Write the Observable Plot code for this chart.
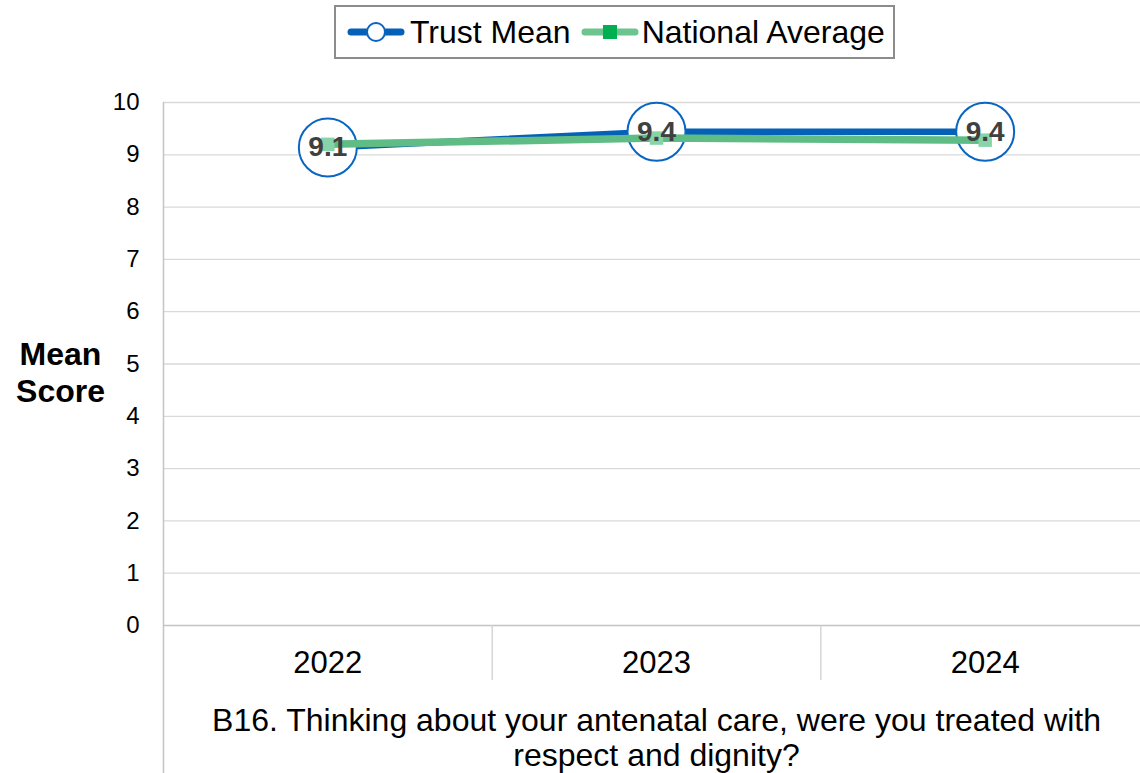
<!DOCTYPE html>
<html><head><meta charset="utf-8">
<script src="https://cdn.jsdelivr.net/npm/d3@7"></script>
<script src="https://cdn.jsdelivr.net/npm/@observablehq/plot@0.6"></script>
<style>
body{margin:0;background:#fff;font-family:"Liberation Sans",Arial,sans-serif;}
#wrap{position:relative;width:1140px;height:773px;overflow:hidden;}
#chart{position:absolute;left:0;top:0;}
#legend{position:absolute;left:334px;top:5px;width:546px;height:50px;border:2px solid #8c8c8c;background:#fff;display:flex;align-items:center;justify-content:flex-start;font-size:32px;color:#000;white-space:nowrap;padding-left:11px;box-sizing:content-box;}
#legend .item{display:flex;align-items:center;}
#legend .item + .item{margin-left:10px;}
</style></head><body><div id="wrap"><div id="chart"></div><div id="legend"></div></div>
<script>
const years = [2022, 2023, 2024];
const trustMean = [9.14, 9.44, 9.44];
const nationalAverage = [9.2, 9.32, 9.28];
const trustLabels = ["9.1", "9.4", "9.4"];
const seriesNames = ["Trust Mean", "National Average"];
const yTicks = [0, 1, 2, 3, 4, 5, 6, 7, 8, 9, 10];
const questionText = "B16. Thinking about your antenatal care, were you treated with\nrespect and dignity?";
const yTitle = "Mean\nScore";

const BLUE = "#0560B8", CIRCLE = "#0866C2", GREEN = "#5EBC84", GREEN_MK = "#86D4A8", GREEN_LEG = "#00B050";

const trust = years.map((x, i) => ({x, y: trustMean[i], label: trustLabels[i]}));
const nat = years.map((x, i) => ({x, y: nationalAverage[i]}));
const seps = years.slice(0, -1).map(d => d + 0.5);
const leftEdge = [years[0] - 0.5];

const plot = Plot.plot({
  width: 1140, height: 773,
  marginTop: 102, marginBottom: 148, marginLeft: 163, marginRight: 0,
  style: {fontFamily: "'Liberation Sans', Arial, sans-serif", background: "transparent", overflow: "visible"},
  x: {type: "linear", domain: [years[0] - 0.5, years[2] + 0.5], range: [163, 1149], label: null},
  y: {domain: [0, 10], label: null},
  marks: [
    Plot.ruleY(yTicks.filter(d => d > 0), {stroke: "#d9d9d9", strokeWidth: 1.3}),
    Plot.ruleY([0], {stroke: "#c4c4c4", strokeWidth: 1.5}),
    Plot.ruleX(seps, {y1: 0, y2: -1.05, stroke: "#d0d0d0", strokeWidth: 1.3}),
    Plot.ruleX(leftEdge, {y1: 10, y2: -2.9, stroke: "#c4c4c4", strokeWidth: 1.5}),
    Plot.axisY(yTicks, {tickSize: 0, tickPadding: 24, fontSize: 24, fill: "#000", tickFormat: d => String(d)}),
    Plot.axisX(years, {tickSize: 0, tickPadding: 25, fontSize: 31, fill: "#000", tickFormat: d => String(d)}),
    Plot.text([{t: questionText, x: years[1]}], {x: "x", text: "t", frameAnchor: "bottom", dy: 112, fontSize: 32, lineHeight: 1.1, lineAnchor: "middle", fill: "#000"}),
    Plot.text([yTitle], {frameAnchor: "left", dx: -103, dy: 8, fontWeight: "bold", fontSize: 32, textAnchor: "middle", lineHeight: 1.15, fill: "#000"}),
    Plot.line(trust, {x: "x", y: "y", stroke: BLUE, strokeWidth: 6.5}),
    Plot.dot(trust, {x: "x", y: "y", r: 29, fill: "white", stroke: CIRCLE, strokeWidth: 2}),
    Plot.line(nat, {x: "x", y: "y", stroke: GREEN, strokeWidth: 7.5}),
    Plot.dot(nat, {x: "x", y: "y", symbol: "square", r: 7.6, fill: GREEN_MK}),
    Plot.text(trust, {x: "x", y: "y", text: "label", fontWeight: "bold", fontSize: 28, fill: "#404040"})
  ]
});
document.getElementById("chart").appendChild(plot);

// legend
const legend = d3.select("#legend");
const items = [
  {name: seriesNames[0], line: BLUE, kind: "circle"},
  {name: seriesNames[1], line: "#6CC48F", kind: "square"}
];
items.forEach(it => {
  const div = legend.append("div").attr("class", "item");
  const svg = div.append("svg").attr("width", 58).attr("height", 24).style("margin-right", it.kind === "circle" ? "5px" : "3px");
  svg.append("line").attr("x1", 4).attr("x2", 54).attr("y1", 12).attr("y2", 12)
    .attr("stroke", it.line).attr("stroke-width", 7).attr("stroke-linecap", "round");
  if (it.kind === "circle") {
    svg.append("circle").attr("cx", 29).attr("cy", 12).attr("r", 9).attr("fill", "#fff").attr("stroke", CIRCLE).attr("stroke-width", 2);
  } else {
    svg.append("rect").attr("x", 22).attr("y", 5).attr("width", 14).attr("height", 14).attr("fill", GREEN_LEG);
  }
  div.append("span").text(it.name);
});
</script>
</body></html>
